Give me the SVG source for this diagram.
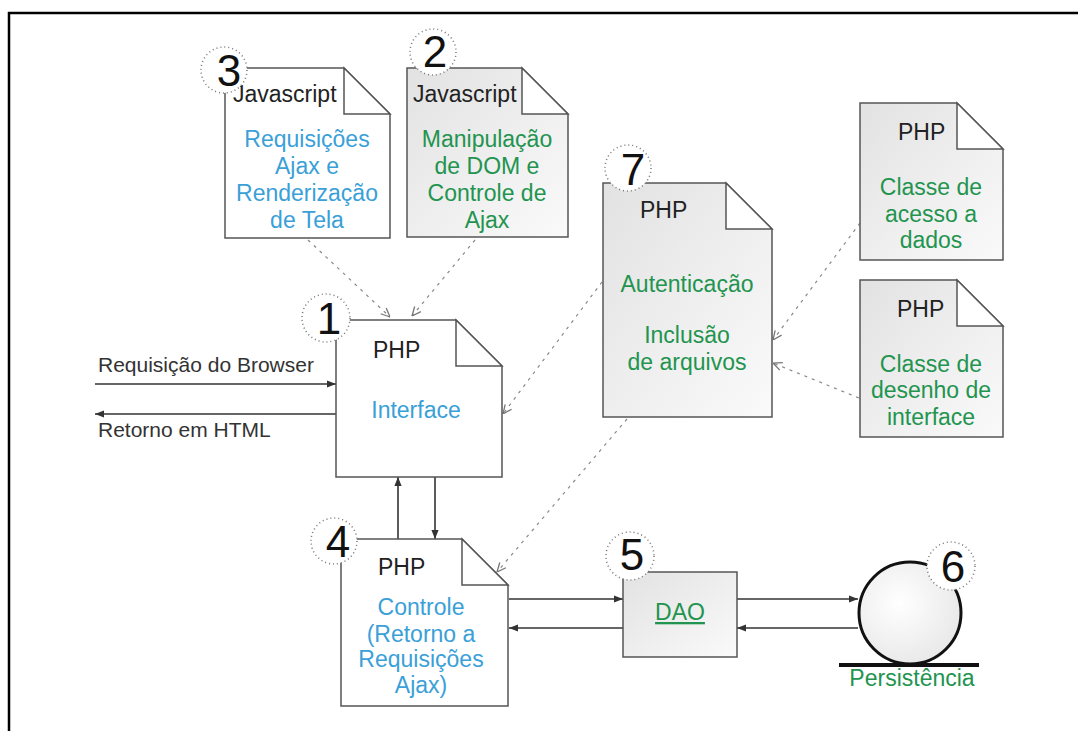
<svg xmlns="http://www.w3.org/2000/svg" width="1078" height="731" viewBox="0 0 1078 731">
<defs>
<linearGradient id="gray" x1="0" y1="0" x2="1" y2="1">
<stop offset="0" stop-color="#e2e2e2"/>
<stop offset="1" stop-color="#fafafa"/>
</linearGradient>
<radialGradient id="ball" cx="0.4" cy="0.4" r="0.7">
<stop offset="0" stop-color="#ffffff"/>
<stop offset="1" stop-color="#e6e6e6"/>
</radialGradient>
<marker id="ah" viewBox="0 0 10 10" refX="10" refY="5" markerWidth="9" markerHeight="9" markerUnits="userSpaceOnUse" orient="auto">
<path d="M0,1 L10,5 L0,9 Z" fill="#333"/>
</marker>
<marker id="dh" viewBox="0 0 10 10" refX="10" refY="5" markerWidth="10" markerHeight="10" markerUnits="userSpaceOnUse" orient="auto">
<path d="M1,1 L10,5 L1,9" fill="none" stroke="#777" stroke-width="1.3"/>
</marker>
</defs>
<style>
.page{stroke:#555;stroke-width:1.5}
.w{fill:#fff}
.g{fill:url(#gray)}
.fold{fill:#fff;stroke:#555;stroke-width:1.5}
.t{font-family:"Liberation Sans",Arial,sans-serif;font-size:23px;fill:#222}
.blue{fill:#3aa0d8}
.green{fill:#22944f}
.c{text-anchor:middle}
.lbl{font-family:"Liberation Sans",Arial,sans-serif;font-size:21px;fill:#333}
.num{font-family:"Liberation Sans",Arial,sans-serif;font-size:44px;fill:#111;text-anchor:middle}
.dot{fill:#fff;stroke:#777;stroke-width:1.5;stroke-dasharray:1 3}
.solid{stroke:#333;stroke-width:1.6;fill:none;marker-end:url(#ah)}
.dash{stroke:#888;stroke-width:1.2;fill:none;stroke-dasharray:3 5;marker-end:url(#dh)}
</style>
<path d="M9,731 V13 H1078" fill="none" stroke="#000" stroke-width="2.5"/>

<g id="connectors">
<line class="solid" x1="95" y1="384" x2="336" y2="384"/>
<line class="solid" x1="336" y1="414" x2="95" y2="414"/>
<line class="solid" x1="398" y1="539" x2="398" y2="477"/>
<line class="solid" x1="435" y1="477" x2="435" y2="539"/>
<line class="solid" x1="509" y1="599" x2="623" y2="599"/>
<line class="solid" x1="623" y1="628" x2="509" y2="628"/>
<line class="solid" x1="737" y1="599" x2="858" y2="599"/>
<line class="solid" x1="858" y1="628" x2="737" y2="628"/>
<line class="dash" x1="308" y1="240" x2="390" y2="317"/>
<line class="dash" x1="475" y1="240" x2="412" y2="316"/>
<line class="dash" x1="602" y1="282" x2="503" y2="414"/>
<line class="dash" x1="627" y1="419" x2="497" y2="572"/>
<line class="dash" x1="860" y1="223" x2="773" y2="340"/>
<line class="dash" x1="859" y1="398" x2="773" y2="363"/>
</g>

<g id="node3">
<path class="page w" d="M225,68 H344 L390,114 V238 H225 Z"/>
<path class="fold" d="M344,68 V114 H390 Z"/>
<text class="t" x="233" y="102">Javascript</text>
<text class="t blue c" x="307" y="147">Requisições</text>
<text class="t blue c" x="307" y="174">Ajax e</text>
<text class="t blue c" x="307" y="201">Renderização</text>
<text class="t blue c" x="307" y="228">de Tela</text>
<circle class="dot" cx="224" cy="70" r="23"/>
<text class="num" x="229" y="86">3</text>
</g>

<g id="node2">
<path class="page g" d="M407,68 H522 L568,114 V237 H407 Z"/>
<path class="fold" d="M522,68 V114 H568 Z"/>
<text class="t" x="413" y="102">Javascript</text>
<text class="t green c" x="487" y="147">Manipulação</text>
<text class="t green c" x="487" y="174">de DOM e</text>
<text class="t green c" x="487" y="201">Controle de</text>
<text class="t green c" x="487" y="228">Ajax</text>
<circle class="dot" cx="433" cy="52" r="23"/>
<text class="num" x="435" y="67">2</text>
</g>

<g id="node7">
<path class="page g" d="M603,183 H726 L772,229 V417 H603 Z"/>
<path class="fold" d="M726,183 V229 H772 Z"/>
<text class="t" x="640" y="218">PHP</text>
<text class="t green c" x="687" y="292">Autenticação</text>
<text class="t green c" x="687" y="343">Inclusão</text>
<text class="t green c" x="687" y="370">de arquivos</text>
<circle class="dot" cx="628" cy="168" r="23"/>
<text class="num" x="633" y="185">7</text>
</g>

<g id="nodeData">
<path class="page g" d="M860,103 H957 L1003,149 V260 H860 Z"/>
<path class="fold" d="M957,103 V149 H1003 Z"/>
<text class="t" x="898" y="140">PHP</text>
<text class="t green c" x="931" y="195">Classe de</text>
<text class="t green c" x="931" y="222">acesso a</text>
<text class="t green c" x="931" y="248">dados</text>
</g>

<g id="nodeDraw">
<path class="page g" d="M860,280 H957 L1003,326 V437 H860 Z"/>
<path class="fold" d="M957,280 V326 H1003 Z"/>
<text class="t" x="897" y="317">PHP</text>
<text class="t green c" x="931" y="372">Classe de</text>
<text class="t green c" x="931" y="398">desenho de</text>
<text class="t green c" x="931" y="425">interface</text>
</g>

<g id="node1">
<path class="page w" d="M336,320 H456 L502,366 V477 H336 Z"/>
<path class="fold" d="M456,320 V366 H502 Z"/>
<text class="t" x="373" y="358">PHP</text>
<text class="t blue c" x="416" y="418">Interface</text>
<circle class="dot" cx="326" cy="318" r="24"/>
<text class="num" x="329" y="334">1</text>
</g>

<g id="node4">
<path class="page w" d="M341,539 H462 L508,585 V706 H341 Z"/>
<path class="fold" d="M462,539 V585 H508 Z"/>
<text class="t" x="378" y="575">PHP</text>
<text class="t blue c" x="421" y="615">Controle</text>
<text class="t blue c" x="421" y="642">(Retorno a</text>
<text class="t blue c" x="421" y="667">Requisições</text>
<text class="t blue c" x="421" y="693">Ajax)</text>
<circle class="dot" cx="334" cy="541" r="23"/>
<text class="num" x="338" y="557">4</text>
</g>

<g id="node5">
<rect class="page g" x="623" y="572" width="114" height="85"/>
<text class="t green c" x="680" y="620" text-decoration="underline">DAO</text>
<circle class="dot" cx="630" cy="556" r="24"/>
<text class="num" x="632" y="570">5</text>
</g>

<g id="node6">
<circle cx="910" cy="613" r="51" fill="url(#ball)" stroke="#111" stroke-width="3"/>
<line x1="839" y1="665" x2="979" y2="665" stroke="#111" stroke-width="4"/>
<text class="t green c" x="912" y="686">Persistência</text>
<circle class="dot" cx="951" cy="566" r="24"/>
<text class="num" x="953" y="582">6</text>
</g>

<g id="browser-labels">
<text class="lbl" x="98" y="372">Requisição do Browser</text>
<text class="lbl" x="98" y="437">Retorno em HTML</text>
</g>
</svg>
